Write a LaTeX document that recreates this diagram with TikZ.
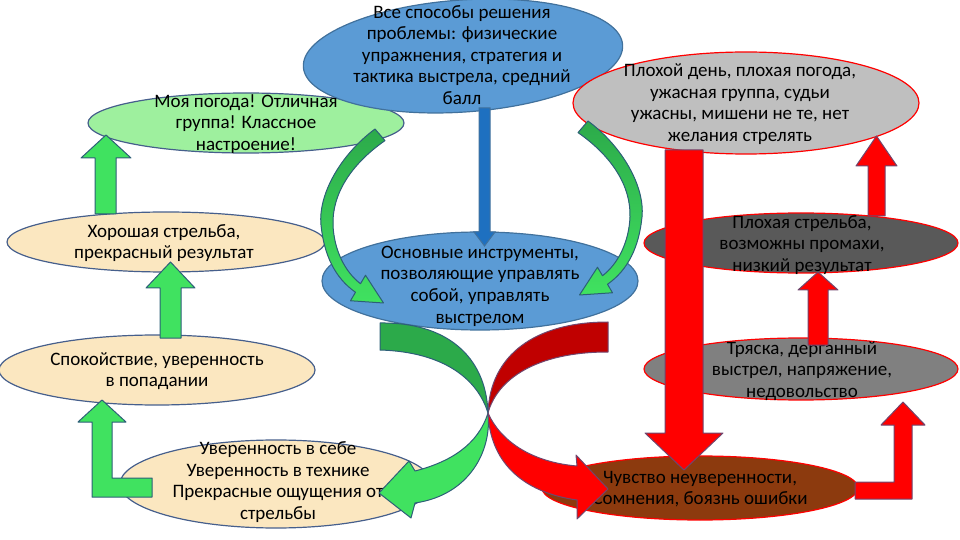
\documentclass[tikz,border=0pt]{standalone}
\usepackage{fontspec}
\setmainfont{Carlito}
\usetikzlibrary{shapes.geometric}
\definecolor{bubbleblue}{RGB}{91,155,213}
\definecolor{blueline}{RGB}{65,113,156}
\definecolor{moodgreen}{RGB}{158,240,158}
\definecolor{sand}{RGB}{251,231,192}
\definecolor{paleline}{RGB}{70,95,140}
\definecolor{badgray}{RGB}{191,191,191}
\definecolor{darkgray}{RGB}{89,89,89}
\definecolor{midgray}{RGB}{128,128,128}
\definecolor{rust}{RGB}{140,58,14}
\definecolor{goodfill}{RGB}{64,226,96}
\definecolor{gooddark}{RGB}{44,170,74}
\definecolor{goodline}{RGB}{45,95,120}
\definecolor{badfill}{RGB}{255,0,0}
\definecolor{baddark}{RGB}{192,0,0}
\definecolor{badline}{RGB}{112,70,110}
\definecolor{toolarrow}{RGB}{30,112,192}
\tikzset{bubble/.style={ellipse,draw,line width=.6pt,inner sep=0pt},
 caption/.style={align=center,inner sep=0pt,font=\fontsize{9.5}{10.8}\selectfont},
 good/.style={fill=goodfill,draw=goodline,line width=.5pt,line join=round},
 bad/.style={fill=badfill,draw=badline,line width=.5pt,line join=round}}

\begin{document}
\begin{tikzpicture}[x=.5pt,y=-.5pt]
\useasboundingbox (0,0) rectangle (960,540);
\clip (0,0) rectangle (960,540);
% ellipses
\node[bubble,fill=moodgreen,draw=paleline,minimum width=158pt,minimum height=30pt] (mood) at (246,123) {};
\node[bubble,fill=bubbleblue,draw=blueline,minimum width=160pt,minimum height=56pt,rotate=4] (ways) at (463,56) {};
\node[bubble,fill=badgray,draw=red,minimum width=173pt,minimum height=51pt] (badday) at (746,103) {};
\node[bubble,fill=sand,draw=paleline,minimum width=159pt,minimum height=30pt] (goodshot) at (166,242) {};
\node[bubble,fill=bubbleblue,draw=blueline,minimum width=158pt,minimum height=49pt] (tools) at (480,281) {};
\node[bubble,fill=darkgray,draw=red,minimum width=157pt,minimum height=30pt] (badshot) at (801,243) {};
\node[bubble,fill=sand,draw=paleline,minimum width=158pt,minimum height=35pt] (calm) at (157,370) {};
\node[bubble,fill=midgray,draw=red,minimum width=157pt,minimum height=31pt] (shake) at (801,369) {};
\node[bubble,fill=sand,draw=paleline,minimum width=156pt,minimum height=44pt] (selfconf) at (276,484) {};
\node[bubble,fill=rust,draw=red,minimum width=158pt,minimum height=32pt] (doubt) at (700,488) {};
% texts
\node[caption] (ways-t) at (462,55) {Все способы решения\\проблемы: физические\\упражнения, стратегия и\\тактика выстрела, средний\\балл};
\node[caption] (badday-t) at (740,104) {Плохой день, плохая погода,\\ужасная группа, судьи\\ужасны, мишени не те, нет\\желания стрелять};
\node[caption] (mood-t) at (246,124) {Моя погода! Отличная\\группа! Классное\\настроение!};
\node[caption] (goodshot-t) at (164,243) {Хорошая стрельба,\\прекрасный результат};
\node[caption] (tools-t) at (480,286) {Основные инструменты,\\позволяющие управлять\\собой, управлять\\выстрелом};
\node[caption] (badshot-t) at (802,245) {Плохая стрельба,\\возможны промахи,\\низкий результат};
\node[caption] (calm-t) at (157,371) {Спокойствие, уверенность\\в попадании};
\node[caption] (shake-t) at (802,371) {Тряска, дерганный\\выстрел, напряжение,\\недовольство};
\node[caption] (selfconf-t) at (278,482) {Уверенность в себе\\Уверенность в технике\\Прекрасные ощущения от\\стрельбы};
\node[caption] (doubt-t) at (700,489) {Чувство неуверенности,\\Сомнения, боязнь ошибки};
% left column arrows
\filldraw[good] (95,214) -- (95,158) -- (81,158) -- (106,135) -- (131,158) -- (116,158) -- (116,214) -- cycle;
\filldraw[good] (160,338) -- (160,288) -- (146,288) -- (170.5,262) -- (195,288) -- (181,288) -- (181,338) -- cycle;
\filldraw[good] (152,478) -- (112,478) -- (112,422) -- (126,422) -- (102,400) -- (78,422) -- (92,422) -- (92,497) -- (152,497) -- cycle;
% right column arrows
\filldraw[bad] (665,150) -- (665,433) -- (645,433) -- (684,470) -- (723,433) -- (703,433) -- (703,150) -- cycle;
\filldraw[bad] (868,216) -- (868,166) -- (856,166) -- (876.5,136) -- (897,166) -- (885,166) -- (885,216) -- cycle;
\filldraw[bad] (808,345) -- (808,290) -- (798,290) -- (818,272) -- (838,290) -- (828,290) -- (828,345) -- cycle;
\filldraw[bad] (855,482) -- (894,482) -- (894,425) -- (881,425) -- (903,402) -- (925,425) -- (912,425) -- (912,499) -- (855,499) -- cycle;
% centre
\filldraw[fill=toolarrow,draw=blueline,line width=.5pt] (479,108) -- (479,232) -- (474,232) -- (484.5,246) -- (495,232) -- (490,232) -- (490,108) -- cycle;
\shadedraw[good,top color=gooddark,bottom color=goodfill] (375,129) .. controls (340,155) and (318,195) .. (321,225) .. controls (324,255) and (335,278) .. (355.5,292.25) -- (350.5,300.75) -- (383.5,303) -- (365.5,275.25) -- (360.5,283.75) .. controls (345,272) and (334,250) .. (333,225) .. controls (332,195) and (350,165) .. (385,140.6) -- cycle;
\shadedraw[good,top color=gooddark,bottom color=goodfill] (588,121) .. controls (623,147) and (645,187) .. (642,217) .. controls (639,247) and (628,270) .. (607.5,284.25) -- (612.5,292.75) -- (579.5,295) -- (597.5,267.25) -- (602.5,275.75) .. controls (618,264) and (629,242) .. (630,217) .. controls (631,187) and (613,157) .. (578,132.6) -- cycle;
% crossing arrows
\filldraw[bad,fill=baddark] (608,322) .. controls (535,322) and (490,355) .. (488,413) .. controls (497,380) and (535,352) .. (608,352) -- cycle;
\filldraw[good,fill=gooddark] (380,323) .. controls (445,322) and (486,355) .. (488,413) .. controls (478,380) and (445,352) .. (380,350) -- cycle;
\filldraw[good] (488,413) .. controls (492,450) and (470,495) .. (415,503) -- (411,518) -- (379,493) -- (409,461) -- (415,471) .. controls (450,462) and (478,445) .. (488,413) -- cycle;
\filldraw[bad] (488,413) .. controls (500,440) and (530,462) .. (577,466) -- (576,455) -- (608,489) -- (577,519) -- (577,500) .. controls (520,492) and (490,460) .. (488,413) -- cycle;
\end{tikzpicture}
\end{document}
